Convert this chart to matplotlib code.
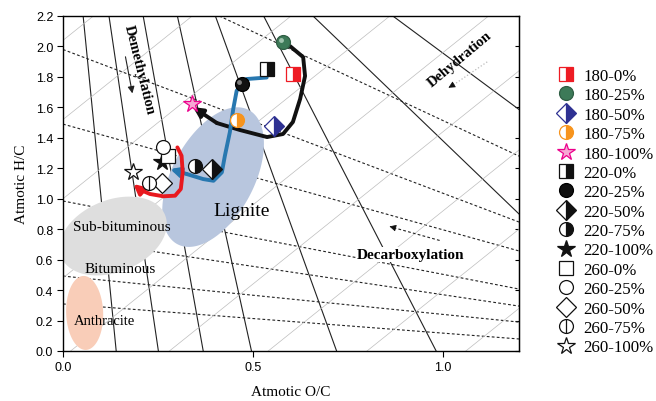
import numpy as np
import matplotlib.pyplot as plt
from matplotlib.lines import Line2D
from matplotlib import transforms

# ---- data ----
labels = ['180-0%', '180-25%', '180-50%', '180-75%', '180-100%',
          '220-0%', '220-25%', '220-50%', '220-75%', '220-100%',
          '260-0%', '260-25%', '260-50%', '260-75%', '260-100%']
oc = [0.604, 0.580, 0.556, 0.459, 0.339,
      0.538, 0.470, 0.391, 0.347, 0.260,
      0.277, 0.264, 0.260, 0.227, 0.185]
hc = [1.819, 2.027, 1.475, 1.519, 1.622,
      1.852, 1.753, 1.195, 1.217, 1.243,
      1.278, 1.337, 1.103, 1.103, 1.173]

# trend arrows
black_x = [0.597, 0.632, 0.637, 0.624, 0.605, 0.579, 0.537, 0.466, 0.405, 0.342]
black_y = [2.003, 1.930, 1.806, 1.655, 1.504, 1.425, 1.405, 1.451, 1.497, 1.602]
blue_x = [0.536, 0.483, 0.457, 0.448, 0.439, 0.426, 0.418, 0.396, 0.369, 0.326, 0.282]
blue_y = [1.796, 1.786, 1.709, 1.589, 1.436, 1.282, 1.173, 1.118, 1.129, 1.162, 1.195]
red_x = [0.301, 0.312, 0.315, 0.310, 0.295, 0.264, 0.229, 0.203, 0.185]
red_y = [1.337, 1.282, 1.173, 1.064, 1.020, 1.016, 1.031, 1.059, 1.097]

# guide lines: dashed (decarboxylation), H/C at O/C = 0 and at O/C = 1.2
decarb_left = [2.68, 1.98, 1.49, 0.985, 0.742, 0.492, 0.309]
decarb_right = [1.28, 0.847, 0.657, 0.407, 0.295, 0.19, 0.079]
# solid (demethylation): O/C at top (H/C = 2.2) and where they leave the frame
demeth_top = [0.053, 0.121, 0.211, 0.301, 0.401, 0.528, 0.658, 0.868]
demeth_end_x = [0.140, 0.251, 0.369, 0.496, 0.720, 0.982, 1.2, 1.2]
demeth_end_y = [0, 0, 0, 0, 0, 0, 0.90, 1.586]
# thin grey (dehydration), slope 2, O/C where they cross H/C = 0
dehyd_x0 = [-1.02, -0.76, -0.50, -0.24, 0.02, 0.28, 0.54, 0.80, 1.06]


def ellipse_pts(cx, cy, a, b, ang):
    # a, b in pixels, ang in screen degrees
    sx = 456 / 1.2
    sy = 335 / 2.2
    t = np.linspace(0, 2 * np.pi, 200)
    th = np.radians(ang)
    dx = a * np.cos(t) * np.cos(th) - b * np.sin(t) * np.sin(th)
    dy = a * np.cos(t) * np.sin(th) + b * np.sin(t) * np.cos(th)
    return cx + dx / sx, cy + dy / sy


def main():
    fig = plt.figure(figsize=(6.56, 4.02), dpi=100)
    ax = fig.add_axes([63 / 656, 50 / 402, 456 / 656, 335 / 402])
    ax.set_xlim(0, 1.2)
    ax.set_ylim(0, 2.2)

    for yl, yr in zip(decarb_left, decarb_right):
        ax.plot([0, 1.2], [yl, yr], ls=(0, (2.5, 2)), color='#222222', lw=0.8)
    for i in range(len(demeth_top)):
        ax.plot([demeth_top[i], demeth_end_x[i]], [2.2, demeth_end_y[i]],
                color='#222222', lw=0.8)
    xs = np.array([-1.5, 2.0])
    for x0 in dehyd_x0:
        ax.plot(xs, 2 * (xs - x0), color='#bdbdbd', lw=0.5)

    # coal regions
    ex, ey = ellipse_pts(0.395, 1.142, 76, 41, 62)
    ax.fill(ex, ey, color='#b8c6de', lw=0, zorder=2)
    ex, ey = ellipse_pts(0.132, 0.755, 56, 36, 22)
    ax.fill(ex, ey, color='#dedede', lw=0, zorder=2)
    ex, ey = ellipse_pts(0.057, 0.25, 37, 18.5, 92)
    ax.fill(ex, ey, color='#f9cdb8', lw=0, zorder=2)

    serif = 'Liberation Serif'
    ax.text(0.47, 0.92, 'Lignite', family=serif, fontsize=14, ha='center', va='center', zorder=3)
    ax.text(0.155, 0.815, 'Sub-bituminous', family=serif, fontsize=11, ha='center', va='center', zorder=3)
    ax.text(0.15, 0.54, 'Bituminous', family=serif, fontsize=11, ha='center', va='center', zorder=3)
    ax.text(0.109, 0.203, 'Anthracite', family=serif, fontsize=10.5, ha='center', va='center', zorder=3)
    ax.text(0.2, 1.85, 'Demethylation', family=serif, fontsize=10.5, fontweight='bold',
            rotation=-76, ha='center', va='center', zorder=3)
    ax.text(1.045, 1.92, 'Dehydration', family=serif, fontsize=10.5, fontweight='bold',
            rotation=40, ha='center', va='center', zorder=3)
    ax.text(0.915, 0.635, 'Decarboxylation', family=serif, fontsize=11, fontweight='bold',
            ha='center', va='center', zorder=3,
            bbox=dict(facecolor='white', edgecolor='none', pad=0.5))

    ax.annotate('', xy=(0.184, 1.674), xytext=(0.163, 1.95),
                arrowprops=dict(arrowstyle='-|>', color='#222222', lw=0.8, mutation_scale=10))
    ax.plot([1.02, 1.12], [1.735, 1.905], color='#bbbbbb', lw=0.9, ls=':')
    ax.annotate('', xy=(1.008, 1.72), xytext=(1.03, 1.752),
                arrowprops=dict(arrowstyle='-|>', color='#111111', lw=0.5, mutation_scale=10))
    ax.plot([0.87, 0.994], [0.81, 0.724], color='#222222', lw=0.8, ls=(0, (2.5, 2)))
    ax.annotate('', xy=(0.852, 0.823), xytext=(0.88, 0.804),
                arrowprops=dict(arrowstyle='-|>', color='#111111', lw=0.5, mutation_scale=10))

    # trend curves
    for cx, cy, col in [(black_x, black_y, '#111111'), (blue_x, blue_y, '#2878b0'),
                        (red_x, red_y, '#e8191f')]:
        ax.plot(cx[:-1], cy[:-1], color=col, lw=2.8, solid_capstyle='round',
                solid_joinstyle='round', zorder=4)
        ax.annotate('', xy=(cx[-1], cy[-1]), xytext=(cx[-2], cy[-2]),
                    arrowprops=dict(arrowstyle='-|>', color=col, lw=2.8,
                                    mutation_scale=14, shrinkA=0, shrinkB=0), zorder=4)

    styles = [
        dict(marker='s', color='#ee1c24', fillstyle='right', markerfacecoloralt='white'),
        dict(marker='o', color='#3d7a58', markeredgecolor='#2f5e44'),
        dict(marker='D', color='#2e3192', fillstyle='right', markerfacecoloralt='white'),
        dict(marker='o', color='#f7941d', fillstyle='right', markerfacecoloralt='white'),
        dict(marker='*', color='#ec008c', markerfacecolor='#f7a8d4', markersize=13),
        dict(marker='s', color='#111111', fillstyle='right', markerfacecoloralt='white'),
        dict(marker='o', color='#111111', markeredgecolor='#000000'),
        dict(marker='D', color='#111111', fillstyle='right', markerfacecoloralt='white'),
        dict(marker='o', color='#111111', fillstyle='right', markerfacecoloralt='white'),
        dict(marker='*', color='#111111', markersize=13),
        dict(marker='s', color='#111111', markerfacecolor='white'),
        dict(marker='o', color='#111111', markerfacecolor='white'),
        dict(marker='D', color='#111111', markerfacecolor='white'),
        dict(marker='o', color='#111111', markerfacecolor='white'),
        dict(marker='*', color='#111111', markerfacecolor='white', markersize=13),
    ]
    shine = transforms.offset_copy(ax.transData, fig=fig, x=-1.8, y=1.8, units='points')
    handles = []
    for i in range(len(labels)):
        st = dict(markersize=10, markeredgewidth=0.9, linestyle='none')
        st.update(styles[i])
        ax.plot([oc[i]], [hc[i]], zorder=5, **st)
        h = Line2D([], [], **st)
        if i in (1, 6):
            hl = '#a9cbb7' if i == 1 else '#8a8a8a'
            ax.plot([oc[i]], [hc[i]], 'o', ms=3.5, color=hl, mew=0, alpha=0.9,
                    transform=shine, zorder=6)
        if i == 13:
            bar = dict(marker='|', color='#111111', markersize=10, markeredgewidth=0.9, linestyle='none')
            ax.plot([oc[i]], [hc[i]], zorder=6, **bar)
            h = (h, Line2D([], [], **bar))
        handles.append(h)

    fig.legend(handles, labels, loc='upper left', bbox_to_anchor=(556 / 656, 1 - 69 / 402),
               frameon=False, prop={'family': serif, 'size': 12.2}, labelspacing=0.2,
               handlelength=1.2, handletextpad=0.4, borderaxespad=0, borderpad=0)

    ax.set_xticks([0, 0.5, 1.0])
    ax.set_yticks(np.arange(0, 2.21, 0.2))
    ax.xaxis.set_major_formatter(plt.FormatStrFormatter('%.1f'))
    ax.yaxis.set_major_formatter(plt.FormatStrFormatter('%.1f'))
    for lab in ax.get_xticklabels() + ax.get_yticklabels():
        lab.set_family('Liberation Sans')
        lab.set_fontsize(9)
    ax.tick_params(direction='out', length=4, width=0.8, pad=3)
    sec = ax.secondary_yaxis('right')
    sec.set_yticks(np.arange(0, 2.21, 0.2))
    sec.tick_params(direction='in', length=3, labelright=False)
    for sp in ax.spines.values():
        sp.set_linewidth(1.0)

    ax.set_xlabel('Atmotic O/C', family=serif, fontsize=11, labelpad=9)
    ax.set_ylabel('Atmotic H/C', family=serif, fontsize=11, labelpad=6)

    fig.savefig('out.png', dpi=100)


if __name__ == '__main__':
    main()
